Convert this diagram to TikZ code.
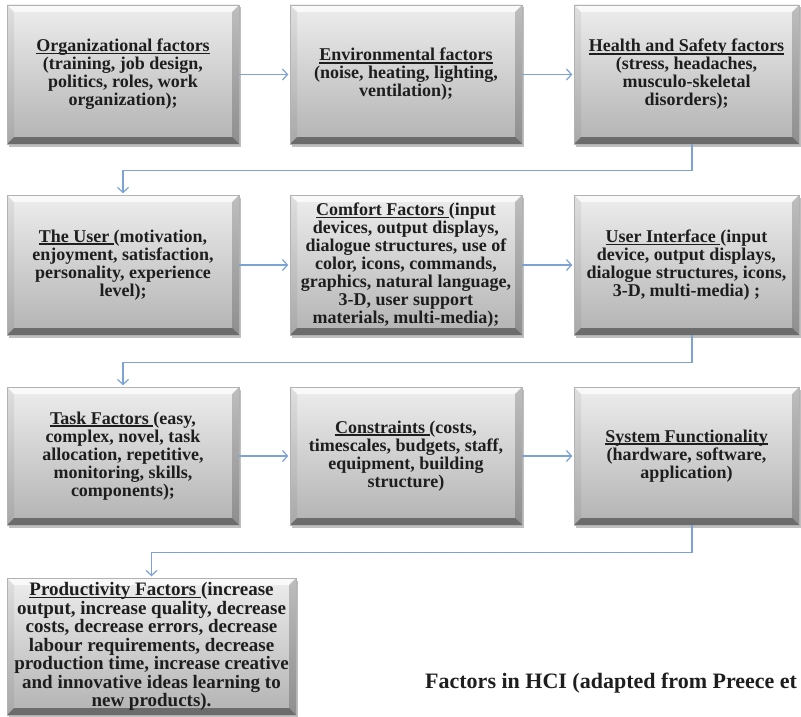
\documentclass[tikz,border=0pt]{standalone}
\usepackage{fontspec}
\setmainfont{Liberation Serif}
\usetikzlibrary{calc,shadows,arrows.meta}

\definecolor{conn}{HTML}{7DA2D4}
\definecolor{txt}{HTML}{1E1E1E}

% heading with a thick underline
\newcommand\hd[1]{\setbox0\hbox{#1}\rlap{\rule[-2.6pt]{\wd0}{1.5pt}}\box0}
\newcommand\boxfont{\fontsize{18}{18}\selectfont\bfseries}
\newcommand\bigboxfont{\fontsize{19}{18.5}\selectfont\bfseries}
\newcommand\capfont{\fontsize{22}{24}\selectfont\bfseries}

\tikzset{
  fbox/.style={rectangle, inner sep=0pt, align=center, text=txt, font=\boxfont,
    draw=black!30, line width=0.5pt,
    top color=black!7, middle color=white, bottom color=black!30,
    drop shadow={shadow xshift=1.5pt, shadow yshift=-2.5pt, opacity=0.45, fill=black!55},
    path picture={
      \def\bw{7pt}
      \coordinate (pnw) at (path picture bounding box.north west);
      \coordinate (pne) at (path picture bounding box.north east);
      \coordinate (psw) at (path picture bounding box.south west);
      \coordinate (pse) at (path picture bounding box.south east);
      % bevelled rim: top, left, right, bottom faces
      \fill[white, fill opacity=0.7] (pnw) -- (pne) -- ($(pne)+(-\bw,-\bw)$) -- ($(pnw)+(\bw,-\bw)$) -- cycle;
      \fill[black, fill opacity=0.06] (pnw) -- ($(pnw)+(\bw,-\bw)$) -- ($(psw)+(\bw,\bw)$) -- (psw) -- cycle;
      \fill[black, fill opacity=0.20] (pne) -- (pse) -- ($(pse)+(-\bw,\bw)$) -- ($(pne)+(-\bw,-\bw)$) -- cycle;
      \fill[black, fill opacity=0.40] (psw) -- (pse) -- ($(pse)+(-\bw,\bw)$) -- ($(psw)+(\bw,\bw)$) -- cycle;
    }},
  conn/.style={draw=conn, line width=1.2pt, -{Straight Barb[length=5pt,width=11pt,line width=1.2pt]}, shorten >=1.5pt},
}

\begin{document}
\begin{tikzpicture}[x=1pt, y=-1pt]
\useasboundingbox (0,0) rectangle (801,717);
\fill[white] (0,0) rectangle (801,717);
\begin{scope}
\clip (0,0) rectangle (801,717);

% row 1
\node[fbox, minimum width=232pt, minimum height=139pt] (b1) at (123,74.5)
  {\hd{Organizational factors}\\(training, job design,\\politics, roles, work\\organization);};
\node[fbox, minimum width=232pt, minimum height=139pt] (b2) at (406,74.5)
  {\hd{Environmental factors}\\(noise, heating, lighting,\\ventilation);};
\node[fbox, minimum width=225pt, minimum height=139pt] (b3) at (686.5,74.5)
  {\hd{Health and Safety factors}\\(stress, headaches,\\musculo-skeletal\\disorders);};

% row 2
\node[fbox, minimum width=232pt, minimum height=140pt] (b4) at (123,265)
  {\hd{The User\ }(motivation,\\enjoyment, satisfaction,\\personality, experience\\level);};
\node[fbox, minimum width=232pt, minimum height=140pt] (b5) at (406,265)
  {\hd{Comfort Factors\ }(input\\devices, output displays,\\dialogue structures, use of\\color, icons, commands,\\graphics, natural language,\\3-D, user support\\materials, multi-media);};
\node[fbox, minimum width=225pt, minimum height=140pt] (b6) at (686.5,265)
  {\hd{User Interface\ }(input\\device, output displays,\\dialogue structures, icons,\\3-D, multi-media) ;};

% row 3
\node[fbox, minimum width=232pt, minimum height=138pt] (b7) at (123,456)
  {\hd{Task Factors\ }(easy,\\complex, novel, task\\allocation, repetitive,\\monitoring, skills,\\components);};
\node[fbox, minimum width=232pt, minimum height=138pt] (b8) at (406,456)
  {\hd{Constraints\ }(costs,\\timescales, budgets, staff,\\equipment, building\\structure)};
\node[fbox, minimum width=225pt, minimum height=138pt] (b9) at (686.5,456)
  {\hd{System Functionality}\\(hardware, software,\\application)};

% row 4
\node[fbox, font=\bigboxfont, minimum width=289pt, minimum height=137pt] (b10) at (151.5,646.5)
  {\hd{Productivity Factors\ }(increase\\output, increase quality, decrease\\costs, decrease errors, decrease\\labour requirements, decrease\\production time, increase creative\\and innovative ideas learning to\\new products).};

\node[anchor=base west, font=\capfont, text=txt, inner sep=0pt] (cap) at (425,688)
  {Factors in HCI (adapted from Preece et};

% connectors along each row
\draw[conn] (b1.east) -- (b2.west);
\draw[conn] (b2.east) -- (b3.west);
\draw[conn] (b4.east) -- (b5.west);
\draw[conn] (b5.east) -- (b6.west);
\draw[conn] (b7.east) -- (b8.west);
\draw[conn] (b8.east) -- (b9.west);

% connectors from row to row
\draw[conn] ([xshift=5.5pt]b3.south) -- ++(0,26) -| (b4.north);
\draw[conn] ([xshift=5.5pt]b6.south) -- ++(0,27) -| (b7.north);
\draw[conn] ([xshift=5.5pt]b9.south) -- ++(0,27) -| (b10.north);
\end{scope}
\end{tikzpicture}
\end{document}
